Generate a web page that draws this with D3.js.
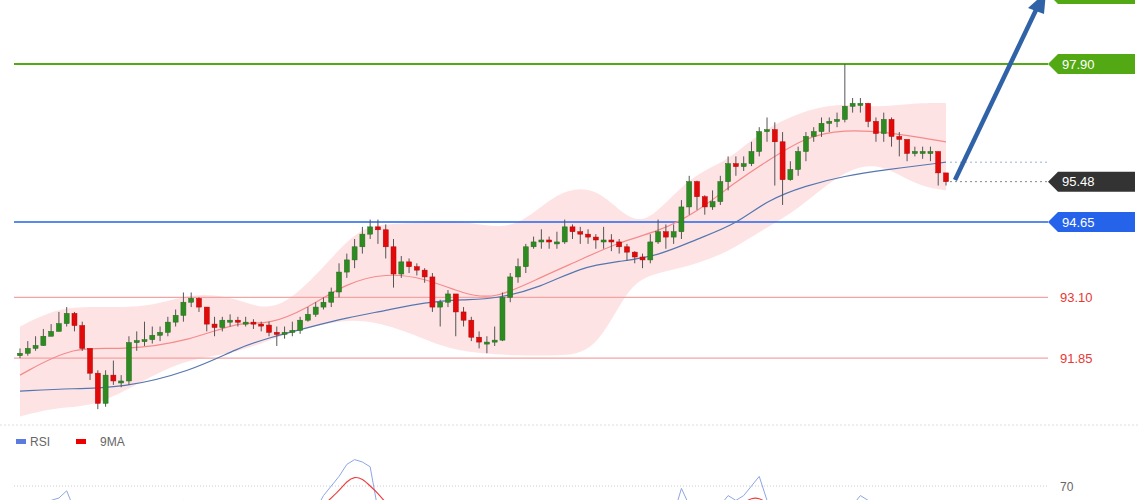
<!DOCTYPE html><html><head><meta charset="utf-8"><script src="https://cdn.jsdelivr.net/npm/d3@7"></script>
<style>body{margin:0;background:#fff}svg{display:block;font-family:Arial,'Liberation Sans',sans-serif}</style></head><body><svg id="c" width="1140" height="500"></svg><script>
// candle closes (price)
const closes=[91.95,92.05,92.11,92.30,92.40,92.56,92.77,92.52,92.05,91.54,90.92,91.50,91.38,91.38,92.17,92.21,92.23,92.32,92.38,92.59,92.73,93.00,93.08,92.90,92.55,92.48,92.63,92.63,92.59,92.59,92.55,92.53,92.38,92.34,92.38,92.42,92.63,92.75,92.90,93.00,93.21,93.62,93.87,94.14,94.40,94.55,94.49,94.14,93.58,93.83,93.73,93.66,93.52,92.90,93.00,93.17,92.80,92.63,92.28,92.18,92.18,92.22,93.10,93.52,93.73,94.14,94.24,94.28,94.24,94.24,94.55,94.45,94.40,94.34,94.28,94.28,94.24,94.14,94.03,93.93,93.87,94.24,94.45,94.34,94.45,94.96,95.48,95.17,94.96,95.07,95.48,95.85,95.79,95.85,96.10,96.51,96.55,96.30,95.52,95.73,96.10,96.41,96.51,96.68,96.72,96.76,97.03,97.09,97.09,96.72,96.47,96.76,96.41,96.35,96.06,96.10,96.10,96.10,95.66,95.48];
const highs=[92.05,92.2,92.3,92.45,92.55,92.8,92.9,92.8,92.6,91.6,91.6,91.6,91.8,91.5,92.3,92.4,92.6,92.5,92.5,92.7,92.85,93.2,93.2,93.1,92.9,92.7,92.7,92.75,92.7,92.7,92.65,92.6,92.6,92.5,92.5,92.6,92.7,92.9,93.0,93.1,93.3,93.8,94.0,94.3,94.55,94.7,94.7,94.6,94.3,93.95,93.9,93.8,93.7,93.6,93.05,93.25,93.1,92.9,92.7,92.4,92.3,92.5,93.2,93.6,93.9,94.2,94.35,94.5,94.35,94.45,94.7,94.6,94.55,94.5,94.4,94.55,94.4,94.3,94.2,94.05,94.0,94.4,94.7,94.6,94.6,95.1,95.6,95.5,95.2,95.3,95.6,96.0,96.0,96.0,96.3,96.6,96.8,96.7,96.5,95.9,96.2,96.5,96.6,96.8,96.8,96.9,97.9,97.2,97.2,97.1,96.8,96.9,96.8,96.5,96.2,96.2,96.2,96.2,96.1,95.65];
const lows=[91.85,91.9,92.0,92.1,92.3,92.4,92.5,92.4,92.0,91.4,90.8,90.85,91.3,91.25,91.3,92.0,92.1,92.15,92.2,92.3,92.5,92.6,92.9,92.8,92.4,92.3,92.4,92.5,92.5,92.5,92.45,92.4,92.3,92.1,92.25,92.3,92.35,92.6,92.7,92.85,92.9,93.1,93.5,93.7,94.0,94.3,94.2,93.9,93.3,93.5,93.6,93.55,93.4,92.8,92.5,92.9,92.3,92.5,92.2,92.05,91.95,92.1,92.2,93.0,93.4,93.6,94.1,94.1,94.1,94.1,94.2,94.3,94.2,94.2,94.1,94.1,94.05,94.0,93.85,93.8,93.7,93.8,94.2,94.1,94.2,94.3,94.8,94.9,94.8,94.9,95.0,95.3,95.6,95.7,95.8,96.0,96.3,95.4,95.0,95.5,95.6,95.9,96.3,96.4,96.5,96.6,96.7,96.9,96.9,96.6,96.3,96.3,96.2,96.0,95.9,96.0,95.95,95.9,95.4,95.4];
// bands / averages, knots at candle index
const bandIdx=[0,5,10,17,22,28,33,40,44,49,55,59,64,69,74,78,81,86,91,95,100,105,110,115,119];
const bandUpper=[92.5,92.9,92.9,92.9,93.2,93.1,92.7,93.9,94.6,94.6,94.7,94.6,94.5,95.3,95.4,94.7,94.65,95.6,95.9,96.5,96.9,97.1,97.0,97.1,97.1];
const bandLower=[90.65,90.85,90.85,91.5,91.85,91.95,92.3,92.6,92.65,92.45,92.03,91.95,91.9,91.9,91.95,93.3,93.58,93.73,94.03,94.45,94.9,95.62,95.93,95.4,95.3];
const maIdx=[0,7,13,22,28,32,37,42,47,52,57,61,67,72,77,82,87,92,96,101,106,111,119];
const maFast=[91.5,92.12,92.0,92.21,92.61,92.53,92.88,93.4,93.6,93.5,93.17,93.05,93.52,93.87,94.24,94.45,94.85,95.48,95.9,96.41,96.55,96.51,96.3];
const maSlow=[91.17,91.23,91.23,91.58,92.06,92.27,92.48,92.68,92.83,93.0,93.06,93.06,93.31,93.72,93.84,93.95,94.3,94.6,95.1,95.4,95.6,95.72,95.88];
const levels=[{v:97.90,c:"#52a914",box:true},{v:95.48,c:"#333333",box:true},{v:94.65,c:"#2463ea",box:true},{v:93.10,c:"#e53935",box:false},{v:91.85,c:"#e53935",box:false}];
const rsiX=[0,3,5,6,7,20,21,22,38,39,40,41,42,43,44,45,46,47,48,63,64,65,66,67,84,85,86,87,90,91,92,93,94,95,96,97,98,105,106,107,108,109,110,111,112];
const rsiV=[60,63,65,68,60,62,64,61,60,66,70,74,79,81,80,78,60,58,56,60,63,60,58,56,58,69,62,58,62,66,64,66,70,74,64,58,56,60,64,62,66,64,62,58,56];
const maRsiX=[37,39,41,42,43,44,45,46,47,49,62,63,64,65,66,88,90,91,92,93,94,95,96,97,98,99,105,106,107,108,109,110];
const maRsiV=[56,62,68,72,74,73,70,67,63,56,58,61,62,60,57,56,60,61,61,63,65,65,63,61,59,57,58,61,63,63,61,58];
const rsiLevel=70;

const svg=d3.select("#c");
const y=d3.scaleLinear().domain([94.65,97.90]).range([222,64]);
const x=d3.scaleLinear().domain([0,closes.length-1]).range([20,946]);
const bw=5;
const area=d3.area().x((d,i)=>x(bandIdx[i])).y0((d,i)=>y(bandLower[i])).y1(d=>y(d)).curve(d3.curveBasis);
svg.append("path").datum(bandUpper).attr("d",area).attr("fill","#fdd9dc").attr("opacity",0.75);
levels.forEach(l=>{
  const light=!l.box;
  svg.append("line").attr("x1",14).attr("x2",1048).attr("y1",y(l.v)).attr("y2",y(l.v))
   .attr("stroke",light?"#f4a3a3":l.v===95.48?"none":l.c).attr("stroke-width",l.v===97.90?2:1.3);
});
const ln=(idx)=>d3.line().x((d,i)=>x(idx[i])).y(d=>y(d)).curve(d3.curveBasis);
svg.append("path").datum(maFast).attr("d",ln(maIdx)).attr("fill","none").attr("stroke","#f48b8b").attr("stroke-width",1.2);
svg.append("path").datum(maSlow).attr("d",ln(maIdx)).attr("fill","none").attr("stroke","#5577b0").attr("stroke-width",1.2);
svg.append("line").attr("x1",950).attr("x2",1048).attr("y1",y(maSlow[maSlow.length-1])).attr("y2",y(maSlow[maSlow.length-1])).attr("stroke","#9ab0d8").attr("stroke-dasharray","2,3");
svg.append("line").attr("x1",950).attr("x2",1048).attr("y1",y(95.48)).attr("y2",y(95.48)).attr("stroke","#888").attr("stroke-dasharray","2,3");
closes.forEach((c,i)=>{
  const o=i?closes[i-1]:c-0.05; const up=c>=o;
  const g=svg.append("g");
  g.append("line").attr("x1",x(i)).attr("x2",x(i)).attr("y1",y(highs[i])).attr("y2",y(lows[i])).attr("stroke","#555").attr("stroke-width",1);
  const t=y(Math.max(o,c)),b=y(Math.min(o,c));
  g.append("rect").attr("x",x(i)-bw/2).attr("width",bw).attr("y",t).attr("height",Math.max(2,b-t))
   .attr("fill",up?"#2e8b22":"#e00a0a").attr("stroke",up?"#226b1a":"#b00").attr("stroke-width",0.5);
});
svg.append("line").attr("x1",955).attr("y1",180).attr("x2",1036).attr("y2",10).attr("stroke","#2f62a6").attr("stroke-width",4.5);
svg.append("path").attr("d","M1046,-8 L1028,8 L1044,14 Z").attr("fill","#2f62a6");
function box(yc,col,txt){
  svg.append("path").attr("d",`M1048,${yc} L1058,${yc-10} L1135,${yc-10} L1135,${yc+10} L1058,${yc+10} Z`).attr("fill",col);
  if(txt)svg.append("text").attr("x",1062).attr("y",yc+4.5).attr("fill","#fff").attr("font-size",13).text(txt);
}
box(-6,"#52a914","");
levels.forEach(l=>{
  if(l.box) box(y(l.v),l.c,l.v.toFixed(2));
  else svg.append("text").attr("x",1060).attr("y",y(l.v)+4.5).attr("fill",l.c).attr("font-size",13).text(l.v.toFixed(2));
});
svg.append("line").attr("x1",0).attr("x2",1140).attr("y1",425).attr("y2",425).attr("stroke","#ddd").attr("stroke-dasharray","2,2");
const ry=d3.scaleLinear().domain([70,80]).range([486,462]);
svg.append("line").attr("x1",14).attr("x2",1048).attr("y1",ry(rsiLevel)).attr("y2",ry(rsiLevel)).attr("stroke","#ccc").attr("stroke-dasharray","1,2");
svg.append("text").attr("x",1060).attr("y",ry(rsiLevel)+5).attr("fill","#666").attr("font-size",12).text(rsiLevel);
const segs=(X,V)=>{const s=[];let cur=[];X.forEach((xi,i)=>{if(i&&xi-X[i-1]>3){s.push(cur);cur=[];}cur.push([xi,V[i]]);});s.push(cur);return s;};
const rl=d3.line().x(d=>x(d[0])).y(d=>ry(d[1]));
segs(rsiX,rsiV).forEach(s=>svg.append("path").datum(s).attr("d",rl).attr("fill","none").attr("stroke","#8ea6e6").attr("stroke-width",1));
segs(maRsiX,maRsiV).forEach(s=>svg.append("path").datum(s).attr("d",rl.curve(d3.curveBasis)).attr("fill","none").attr("stroke","#ee4040").attr("stroke-width",1.2));
svg.append("rect").attr("x",16).attr("y",439).attr("width",10).attr("height",5).attr("fill","#5b7be0");
svg.append("text").attr("x",30).attr("y",446).attr("font-size",12).attr("fill","#666").text("RSI");
svg.append("rect").attr("x",76).attr("y",439).attr("width",10).attr("height",5).attr("fill","#e00");
svg.append("text").attr("x",100).attr("y",446).attr("font-size",12).attr("fill","#666").text("9MA");
</script></body></html>
